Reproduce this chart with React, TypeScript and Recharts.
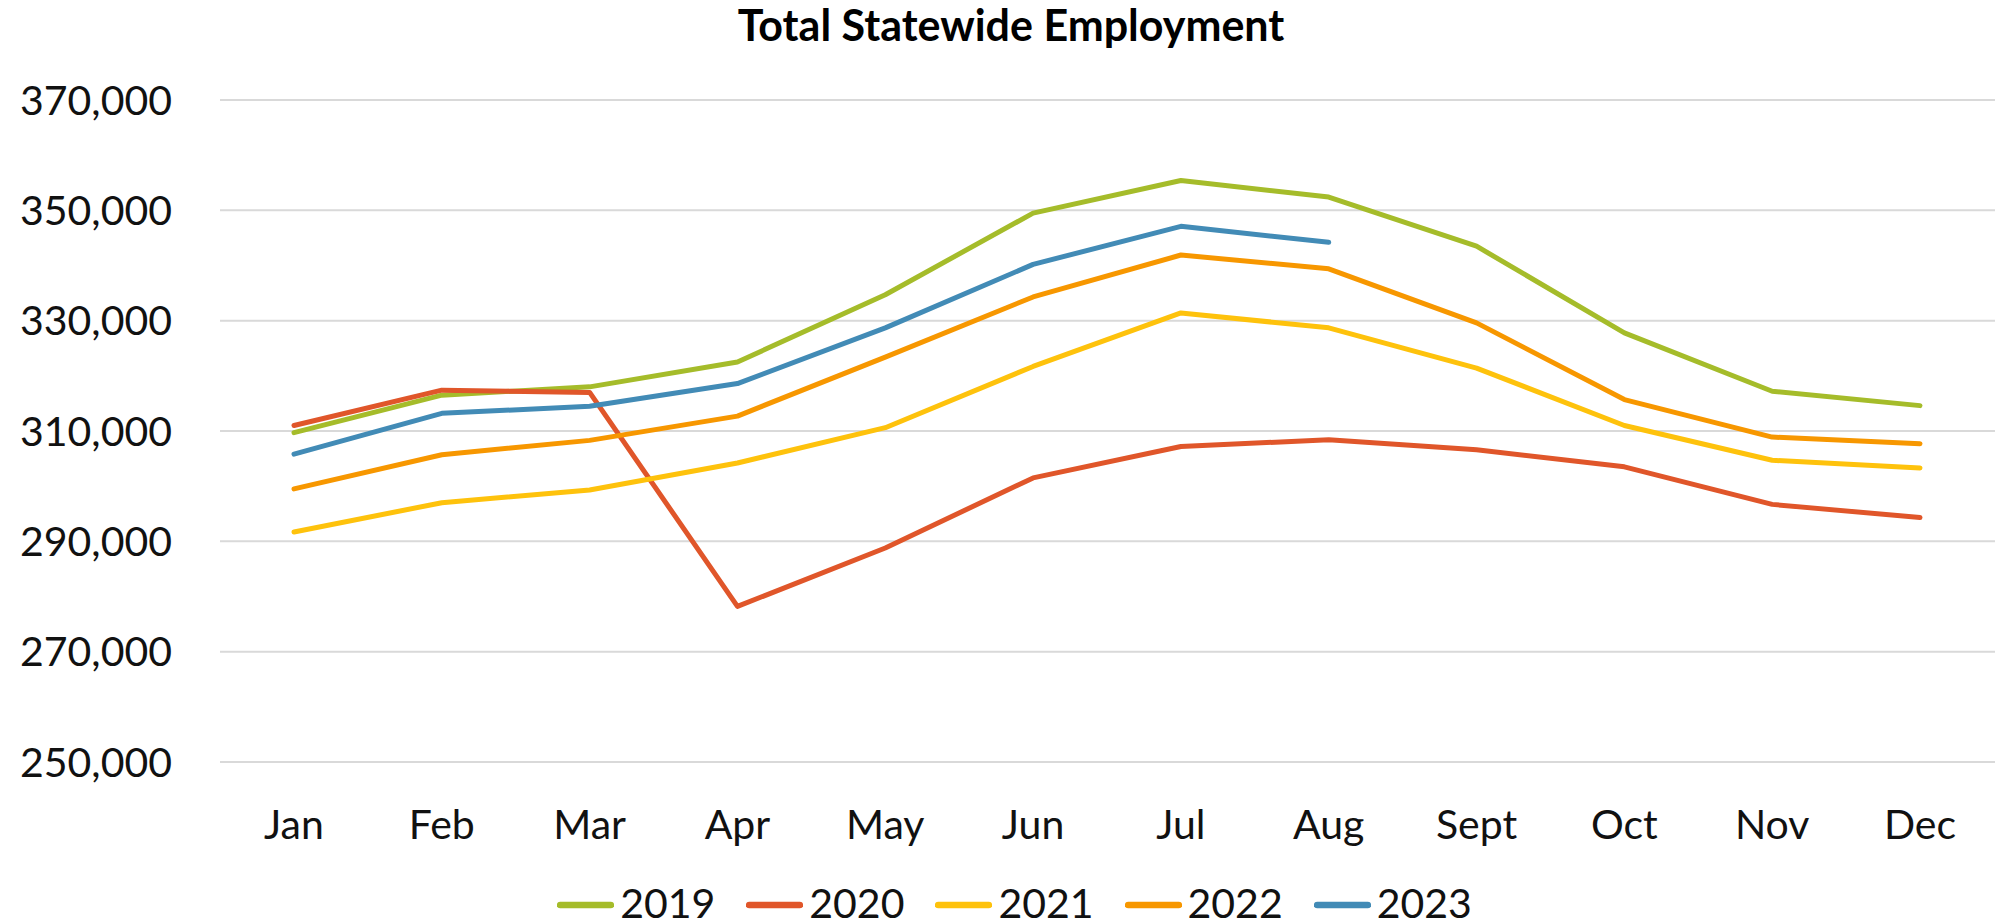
import React from "react";
import {
  CartesianGrid,
  Legend,
  Line,
  LineChart,
  XAxis,
  YAxis,
} from "recharts";

const MONTHS = ["Jan", "Feb", "Mar", "Apr", "May", "Jun", "Jul", "Aug", "Sept", "Oct", "Nov", "Dec"];

const Y2019 = [309700, 316500, 318000, 322500, 334700, 349500, 355400, 352400, 343500, 327800, 317200, 314600];
const Y2020 = [311000, 317400, 317000, 278200, 288800, 301500, 307200, 308400, 306600, 303500, 296700, 294300];
const Y2021 = [291700, 297000, 299300, 304200, 310600, 321700, 331400, 328700, 321400, 311000, 304700, 303300];
const Y2022 = [299500, 305700, 308300, 312700, 323400, 334300, 341900, 339400, 329600, 315700, 308900, 307700];
const Y2023 = [305800, 313200, 314500, 318600, 328700, 340200, 347100, 344200, null, null, null, null];

const Y_TICKS = [250000, 270000, 290000, 310000, 330000, 350000, 370000];

const SERIES = [
  { key: "y2019", name: "2019", color: "#A5BC2A" },
  { key: "y2020", name: "2020", color: "#E0562A" },
  { key: "y2021", name: "2021", color: "#FEC20C" },
  { key: "y2022", name: "2022", color: "#F79700" },
  { key: "y2023", name: "2023", color: "#428BB6" },
];

const data = MONTHS.map((month, i) => ({
  month,
  y2019: Y2019[i],
  y2020: Y2020[i],
  y2021: Y2021[i],
  y2022: Y2022[i],
  y2023: Y2023[i],
}));

const FONT = "Lato, 'Open Sans', sans-serif";

function YearLegend(props: any) {
  const items = props.payload || [];
  return (
    <div
      style={{
        display: "flex",
        justifyContent: "center",
        gap: 31,
        paddingLeft: 34,
        fontFamily: FONT,
        fontSize: 41,
        lineHeight: "32px",
        color: "#111",
      }}
    >
      {items.map((it: any) => (
        <div key={it.value} style={{ display: "flex", alignItems: "center", gap: 6 }}>
          <svg width={57} height={32}>
            <line x1={3} y1={18} x2={54} y2={18} stroke={it.color} strokeWidth={6.5} strokeLinecap="round" />
          </svg>
          <span>{it.value}</span>
        </div>
      ))}
    </div>
  );
}

export default function App() {
  return (
    <div style={{ position: "absolute", left: 0, top: 0, width: 1995, height: 924, background: "#fff" }}>
      <div
        style={{
          position: "absolute",
          left: 1011,
          top: 3,
          transform: "translateX(-50%)",
          fontFamily: FONT,
          fontWeight: 700,
          fontSize: 43,
          lineHeight: 1,
          whiteSpace: "nowrap",
          color: "#000",
        }}
      >
        Total Statewide Employment
      </div>
      <LineChart width={1995} height={924} data={data} margin={{ top: 100, right: 0, bottom: 0, left: 0 }}>
        <CartesianGrid vertical={false} stroke="#D9D9D9" strokeWidth={2} />
        <XAxis
          dataKey="month"
          axisLine={false}
          tickLine={false}
          height={162}
          tickMargin={42}
          padding={{ left: 74, right: 75 }}
          interval={0}
          tick={{ fill: "#111", fontSize: 41, fontFamily: FONT }}
        />
        <YAxis
          domain={[250000, 370000]}
          ticks={Y_TICKS}
          axisLine={false}
          tickLine={false}
          width={220}
          tickMargin={42}
          tickFormatter={(v: number) => v.toLocaleString("en-US")}
          tick={{ fill: "#111", fontSize: 41, fontFamily: FONT }}
        />
        <Legend
          verticalAlign="middle"
          align="center"
          layout="horizontal"
          wrapperStyle={{ top: 887, left: 0, width: 1995 }}
          content={YearLegend}
        />
        {SERIES.map((s) => (
          <Line
            key={s.key}
            type="linear"
            dataKey={s.key}
            name={s.name}
            stroke={s.color}
            strokeWidth={5}
            strokeLinecap="round"
            strokeLinejoin="round"
            dot={false}
            activeDot={false}
            isAnimationActive={false}
          />
        ))}
      </LineChart>
    </div>
  );
}
